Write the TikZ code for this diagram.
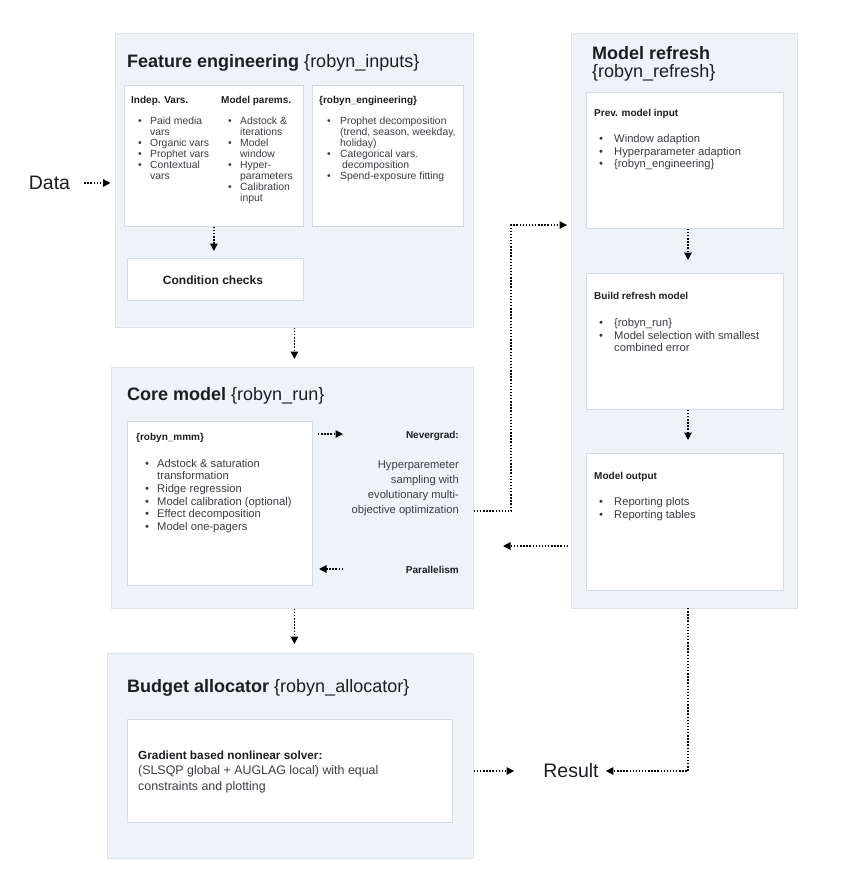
\documentclass[tikz,border=0pt]{standalone}
\usepackage{fontspec}
\setmainfont{Liberation Sans}
\usetikzlibrary{arrows.meta}
\definecolor{ofill}{HTML}{EFF2F7}
\definecolor{obord}{HTML}{DEE3EA}
\definecolor{ibord}{HTML}{D6DCE5}
\definecolor{tdark}{HTML}{1C1E21}
\definecolor{tbody}{HTML}{3A3D42}
\newcommand\bi{\makebox[12pt][l]{\textbullet}}
\newcommand\ci{\hspace*{12pt}}
\newcommand\bj{\makebox[15pt][l]{\textbullet}}
\newcommand\cj{\hspace*{15pt}}
\tikzset{
  outerbox/.style={draw=obord, fill=ofill, line width=0.8pt, inner sep=0, anchor=north west},
  innerbox/.style={draw=ibord, fill=white, line width=0.8pt, inner sep=0, anchor=north west},
  ttl/.style={anchor=base west, inner sep=0, text=tdark, font=\fontsize{18}{20}\selectfont},
  hdr/.style={anchor=base west, inner sep=0, text=tdark, font=\fontsize{10}{11}\selectfont\bfseries},
  lstA/.style={anchor=base west, inner sep=0, text=tbody, font=\fontsize{10.4}{11}\selectfont},
  lstB/.style={anchor=base west, inner sep=0, text=tbody, font=\fontsize{11.2}{12.7}\selectfont},
  big/.style={inner sep=0, text=tdark, font=\fontsize{19.5}{22}\selectfont},
  arr/.style={line width=1.4pt, dash pattern=on 1.4pt off 1.7pt, -{Triangle[length=7.5pt,width=7.5pt]}, draw=black},
}
\begin{document}
\begin{tikzpicture}[x=1pt,y=-1pt]
\useasboundingbox (0,0) rectangle (860,887);
% ---------- Feature engineering ----------
\node[outerbox, minimum width=358pt, minimum height=294pt] (fe) at (115,33) {};
\node[ttl] (fet) at (127,67) {\textbf{Feature engineering} {\{}robyn\_inputs{\}}};
\node[innerbox, minimum width=179pt, minimum height=141pt] (b1) at (124,85) {};
\node[innerbox, minimum width=151pt, minimum height=141pt] (b2) at (312,85) {};
\node[hdr] (h1) at (131,103.5) {Indep. Vars.};
\node[hdr] (h2) at (221,103.5) {Model parems.};
\node[hdr] (h3) at (319,103.5) {{\{}robyn\_engineering{\}}};
\node[lstA] (l1) at (138,124.5) {\begin{tabular}[t]{@{}l@{}}\bi Paid media\\ \ci vars\\ \bi Organic vars\\ \bi Prophet vars\\ \bi Contextual\\ \ci vars\end{tabular}};
\node[lstA] (l2) at (228,124.5) {\begin{tabular}[t]{@{}l@{}}\bi Adstock \&\\ \ci iterations\\ \bi Model\\ \ci window\\ \bi Hyper-\\ \ci parameters\\ \bi Calibration\\ \ci input\end{tabular}};
\node[lstA] (l3) at (327,124.5) {\begin{tabular}[t]{@{}l@{}}\makebox[13pt][l]{\textbullet}Prophet decomposition\\ \hspace*{13pt}(trend, season, weekday,\\ \hspace*{13pt}holiday)\\ \makebox[13pt][l]{\textbullet}Categorical vars.\\ \hspace*{15pt}decomposition\\ \makebox[13pt][l]{\textbullet}Spend-exposure fitting\end{tabular}};
\node[innerbox, minimum width=176pt, minimum height=42pt] (cc) at (127,258) {};
\node[inner sep=0, text=tdark, font=\fontsize{12}{13}\selectfont\bfseries] (cct) at (213,280) {Condition checks};
% ---------- Core model ----------
\node[outerbox, minimum width=362pt, minimum height=241pt] (core) at (111,367) {};
\node[ttl] (coret) at (127,400) {\textbf{Core model} {\{}robyn\_run{\}}};
\node[innerbox, minimum width=185pt, minimum height=164pt] (mmm) at (127,421) {};
\node[hdr] (mmmt) at (136,440.5) {{\{}robyn\_mmm{\}}};
\node[lstB] (l4) at (145,467) {\begin{tabular}[t]{@{}l@{}}\bi Adstock \& saturation\\ \ci transformation\\ \bi Ridge regression\\ \bi Model calibration (optional)\\ \bi Effect decomposition\\ \bi Model one-pagers\end{tabular}};
\node[anchor=base east, inner sep=0, text=tdark, font=\fontsize{10}{12}\selectfont\bfseries] (nev) at (459,438) {Nevergrad:};
\node[anchor=base east, inner sep=0, text=tbody, font=\fontsize{11.2}{15}\selectfont] (hyp) at (459,468) {\begin{tabular}[t]{@{}r@{}}Hyperparemeter\\ sampling with\\ evolutionary multi-\\ objective optimization\end{tabular}};
\node[anchor=base east, inner sep=0, text=tdark, font=\fontsize{10}{12}\selectfont\bfseries] (par) at (459,573) {Parallelism};
% ---------- Budget allocator ----------
\node[outerbox, minimum width=366pt, minimum height=205pt] (bud) at (107,653) {};
\node[ttl] (budt) at (127,692) {\textbf{Budget allocator} {\{}robyn\_allocator{\}}};
\node[innerbox, minimum width=325pt, minimum height=103pt] (solv) at (127,719) {};
\node[anchor=base west, inner sep=0, text=tbody, font=\fontsize{12.4}{15.5}\selectfont] (solvt) at (138,759) {\begin{tabular}[t]{@{}l@{}}\textcolor{tdark}{\fontsize{11.8}{15.5}\selectfont\bfseries Gradient based nonlinear solver:}\\ (SLSQP global + AUGLAG local) with equal\\ constraints and plotting\end{tabular}};
% ---------- Model refresh ----------
\node[outerbox, minimum width=226pt, minimum height=575pt] (ref) at (571,33) {};
\node[ttl] (reft1) at (592,59) {\textbf{Model refresh}};
\node[ttl] (reft2) at (592,77) {{\{}robyn\_refresh{\}}};
\node[innerbox, minimum width=197pt, minimum height=136pt] (prev) at (586,92) {};
\node[hdr] (prevt) at (594,116.5) {Prev. model input};
\node[lstB] (l5) at (599,142.5) {\begin{tabular}[t]{@{}l@{}}\bj Window adaption\\ \bj Hyperparameter adaption\\ \bj {\{}robyn\_engineering{\}}\end{tabular}};
\node[innerbox, minimum width=197pt, minimum height=136pt] (build) at (586,273) {};
\node[hdr] (buildt) at (594,299.5) {Build refresh model};
\node[lstB] (l6) at (599,326.5) {\begin{tabular}[t]{@{}l@{}}\bj {\{}robyn\_run{\}}\\ \bj Model selection with smallest\\ \cj combined error\end{tabular}};
\node[innerbox, minimum width=197pt, minimum height=137pt] (out) at (586,453) {};
\node[hdr] (outt) at (594,479.5) {Model output};
\node[lstB] (l7) at (599,505.5) {\begin{tabular}[t]{@{}l@{}}\bj Reporting plots\\ \bj Reporting tables\end{tabular}};
% ---------- Data / Result ----------
\node[big] (data) at (49.5,183) {Data};
\node[big] (res) at (571,771) {Result};
% ---------- coordinates ----------
\coordinate (nevA) at (318,434);
\coordinate (nevB) at (343,434);
\coordinate (parA) at (343,569);
\coordinate (parB) at (319,569);
\coordinate (bendA) at (511,511);
\coordinate (bendB) at (511,225);
\coordinate (retA) at (688,608);
% ---------- connectors ----------
\draw[arr, shorten <=14pt, shorten >=4.5pt] (data.east) -- (fe.west |- data.east);
\draw[arr, shorten >=7pt] (b1.south) -- (b1.south |- cc.north);
\draw[arr, shorten >=8pt] (fe.south) -- (fe.south |- core.north);
\draw[arr, shorten >=9pt] (fe.south |- core.south) -- (fe.south |- bud.north);
\draw[arr] (nevA) -- (nevB);
\draw[arr] (parA) -- (parB);
\draw[arr, shorten >=4pt] (core.east |- bendA) -- (bendA) -- (bendB) -- (ref.west |- bendB);
\draw[arr, shorten <=3pt] (ref.west |- 0,546) -- (503,546);
\draw[arr, shorten >=13pt] (retA |- prev.south) -- (retA |- build.north);
\draw[arr, shorten >=13pt] (retA |- build.south) -- (retA |- out.north);
\draw[arr, shorten >=29pt] (bud.east |- res) -- (res.west);
\draw[arr, shorten >=7pt] (retA) -- (retA |- res) -- (res.east);
\end{tikzpicture}
\end{document}
